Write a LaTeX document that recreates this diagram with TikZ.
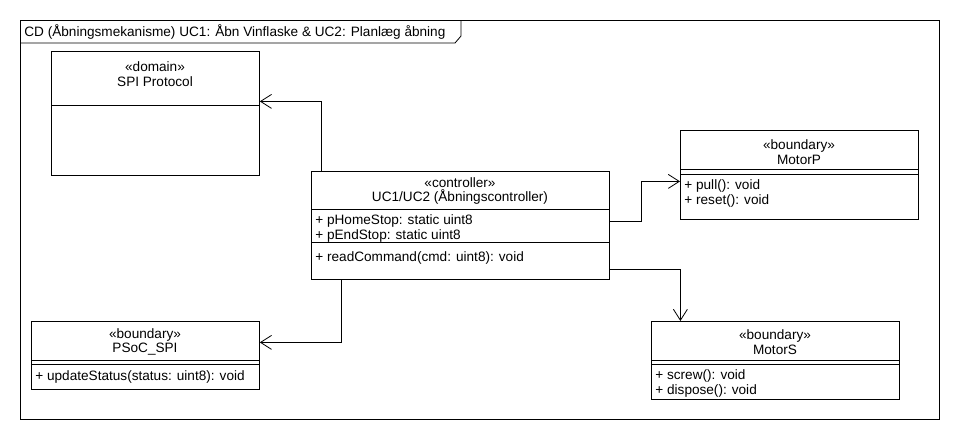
\documentclass[tikz,border=0pt]{standalone}
\usepackage{fontspec}
\setmainfont{Liberation Sans}
\usetikzlibrary{arrows.meta}

\begin{document}
\begin{tikzpicture}[x=1pt,y=-1pt,line width=0.8pt,
  every node/.style={font=\fontsize{13.6}{14.5}\selectfont},
  classbox/.style={draw,anchor=north west,inner sep=0pt},
  head/.style={align=center,inner sep=0pt},
  member/.style={anchor=west,inner sep=0pt},
  dep/.style={-{Straight Barb[length=11pt,width=14pt]}}]
\useasboundingbox (0,0) rectangle (960,440);
\node[classbox,minimum width=919pt,minimum height=399pt] (frame) at (20,20) {};
\draw (20,43) -- (455,43) -- (461,36) -- (461,20);
\node[member] (title) at (24,32) {CD (Åbningsmekanisme) UC1: Åbn Vinflaske \& UC2: Planlæg åbning};

\node[classbox,minimum width=208pt,minimum height=124pt] (spi) at (51,51) {};
\draw (51,105) -- (259,105);
\node[head] (spihead) at (155,74) {«domain»\\SPI Protocol};

\node[classbox,minimum width=298pt,minimum height=108pt] (ctrl) at (311,171) {};
\draw (311,209) -- (609,209);
\draw (311,242) -- (609,242);
\node[head] (ctrlhead) at (460,191) {«controller»\\UC1/UC2 (Åbningscontroller)};
\node[member] (home) at (315,221) {+ pHomeStop: static uint8};
\node[member] (end) at (315,236) {+ pEndStop: static uint8};
\node[member] (read) at (315,258) {+ readCommand(cmd: uint8): void};

\node[classbox,minimum width=238pt,minimum height=89pt] (motorp) at (680,130) {};
\draw (680,169) -- (918,169);
\draw (680,174) -- (918,174);
\node[head] (motorphead) at (799,152) {«boundary»\\MotorP};
\node[member] (pull) at (684,186) {+ pull(): void};
\node[member] (reset) at (684,201) {+ reset(): void};

\node[classbox,minimum width=228pt,minimum height=68pt] (psoc) at (31,321) {};
\draw (31,360) -- (259,360);
\draw (31,364) -- (259,364);
\node[head] (psochead) at (145,342) {«boundary»\\PSoC\_SPI};
\node[member] (update) at (35,377) {+ updateStatus(status: uint8): void};

\node[classbox,minimum width=248pt,minimum height=78pt] (motors) at (651,321) {};
\draw (651,360) -- (899,360);
\draw (651,364) -- (899,364);
\node[head] (motorshead) at (775,342) {«boundary»\\MotorS};
\node[member] (screw) at (655,376) {+ screw(): void};
\node[member] (dispose) at (655,391) {+ dispose(): void};

\draw[dep] ([xshift=10pt]ctrl.north west) |- ([yshift=12pt]spi.east);
\draw[dep] ([yshift=4pt]ctrl.east) -- ++(32,0) |- ([yshift=-6.5pt]motorp.west);
\draw[dep] ([yshift=-44pt]ctrl.east) -| ([xshift=-95pt]motors.north);
\draw[dep] ([xshift=30pt]ctrl.south west) |- ([yshift=13pt]psoc.east);
\end{tikzpicture}
\end{document}
